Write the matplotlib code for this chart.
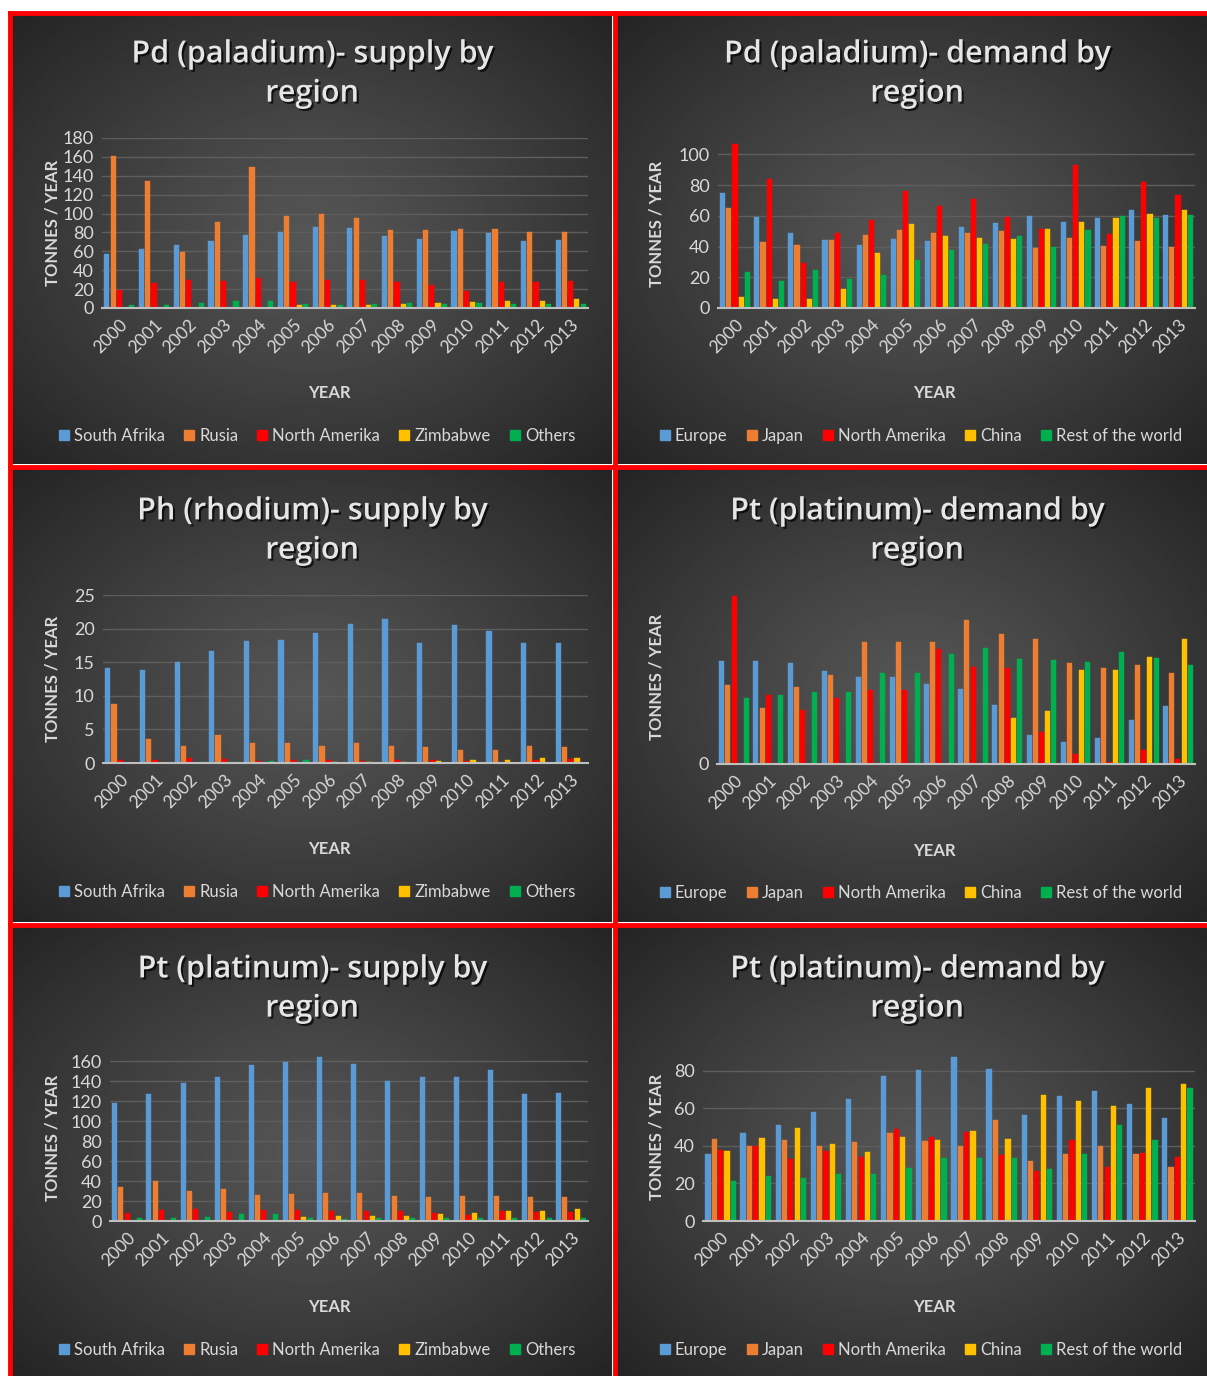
import numpy as np
import matplotlib.pyplot as plt
import matplotlib.patheffects as pe
from matplotlib.lines import Line2D

W, H = 1207, 1376
years = [str(y) for y in range(2000, 2014)]

supply_regions = ["South Afrika", "Rusia", "North Amerika", "Zimbabwe", "Others"]
demand_regions = ["Europe", "Japan", "North Amerika", "China", "Rest of the world"]
colors = ["#5B9BD5", "#ED7D31", "#FF0000", "#FFC000", "#00B050"]

# Pd supply (tonnes / year)
pd_sup_safrika = [57, 62, 67, 71, 77, 81, 86, 85, 76, 73, 82, 79, 71, 72]
pd_sup_rusia = [161, 135, 59, 91, 149, 97, 100, 95, 83, 83, 84, 84, 81, 81]
pd_sup_namerika = [19, 26, 30, 29, 32, 27.5, 30, 30, 27.5, 24, 18, 27.5, 27.5, 28.5]
pd_sup_zimbabwe = [0, 0, 0, 0, 0, 3, 3, 3, 4, 5, 6, 7, 7, 9.5]
pd_sup_others = [3, 3, 5, 7, 7, 4, 3, 4, 5, 4, 5, 4, 4, 4]

# Pd demand
pd_dem_europe = [75, 59.5, 49, 44.4, 41, 45, 43.7, 53, 55.4, 60, 56, 58.7, 63.9, 60.6]
pd_dem_japan = [65, 43, 41, 44.4, 47.6, 51, 49, 49, 50.2, 39, 45.7, 40.5, 43.7, 39.8]
pd_dem_namerika = [107, 84, 29, 48.5, 57.4, 76.4, 66.7, 71, 59.3, 51.5, 93.3, 48, 82, 73.4]
pd_dem_china = [7, 6, 6, 12.3, 35.7, 54.8, 47, 45.7, 45, 51.5, 56, 58.7, 61.3, 63.9]
pd_dem_rest = [23.4, 17.5, 24.7, 19, 21.4, 31.4, 38, 41.5, 46.8, 40, 51, 60, 58.7, 60.4]

# Rh supply
rh_sup_safrika = [14.1, 13.9, 15, 16.7, 18.1, 18.3, 19.3, 20.7, 21.5, 17.8, 20.5, 19.6, 17.8, 17.8]
rh_sup_rusia = [8.8, 3.6, 2.5, 4.2, 3.0, 3.0, 2.5, 3.0, 2.5, 2.4, 1.9, 1.9, 2.5, 2.4]
rh_sup_namerika = [0.4, 0.4, 0.7, 0.65, 0.25, 0.4, 0.4, 0.25, 0.4, 0.4, 0.25, 0.15, 0.4, 0.6]
rh_sup_zimbabwe = [0, 0, 0, 0, 0, 0, 0.15, 0.2, 0.2, 0.3, 0.4, 0.4, 0.75, 0.75]
rh_sup_others = [0.05, 0, 0.15, 0.15, 0.3, 0.4, 0.05, 0, 0, 0, 0, 0, 0, 0]

# Pt demand (first chart, axis without scale)
pt_dem1_europe = [61.6, 61.6, 60.8, 55.6, 52.4, 52.4, 48.2, 45.2, 35.4, 17.6, 13.2, 15.6, 26.6, 35]
pt_dem1_japan = [47.6, 33.8, 46.4, 53.6, 73, 73, 73, 86.2, 77.8, 74.8, 60.8, 57.8, 59.6, 54.8]
pt_dem1_namerika = [100.8, 41.4, 32.4, 39.6, 44.4, 44.6, 68.8, 58.4, 57.8, 19, 6, 1.2, 8.4, 3]
pt_dem1_china = [0, 0, 0, 0, 0, 0, 0, 0, 27.8, 32, 56.6, 56.6, 64.4, 75]
pt_dem1_rest = [39.6, 41.4, 43.4, 43.4, 54.8, 54.8, 65.8, 69.8, 62.8, 62.6, 61.4, 67, 63.8, 59.6]

# Pt supply
pt_sup_safrika = [117.6, 126.6, 137.6, 143.6, 155.6, 158.6, 163.7, 156.6, 139.6, 143.6, 143.6, 150.6, 126.6, 127.6]
pt_sup_rusia = [34, 40, 30, 32, 26, 27, 28, 28, 25, 24, 25, 25, 24, 24]
pt_sup_namerika = [8, 11, 12, 9, 11, 11, 10, 10, 10, 8, 6, 10, 9, 9]
pt_sup_zimbabwe = [0, 0, 0, 0, 0, 4, 5, 5, 5, 7, 8, 10, 10, 12]
pt_sup_others = [2.7, 2.7, 3.7, 7, 7, 2.7, 2, 2.7, 2.7, 2.7, 2.7, 2.7, 2.7, 2.7]

# Pt demand
pt_dem2_europe = [35.6, 46.8, 51.2, 58.2, 65.1, 77.3, 80.5, 87.1, 81.0, 56.6, 66.6, 69.3, 62.4, 54.9]
pt_dem2_japan = [43.8, 40.2, 43.1, 39.9, 42.0, 46.8, 42.7, 40.2, 53.9, 32.2, 35.6, 40.2, 35.6, 28.7]
pt_dem2_namerika = [37.9, 39.9, 32.8, 37.2, 33.9, 49.1, 44.9, 47.5, 34.9, 26.6, 42.9, 28.7, 36.1, 33.9]
pt_dem2_china = [37.2, 44.3, 49.6, 41.1, 36.7, 44.7, 43.3, 48.0, 43.8, 67.2, 63.7, 61.4, 70.9, 73.1]
pt_dem2_rest = [21.3, 23.9, 22.9, 24.8, 24.8, 28.0, 33.5, 33.5, 33.5, 27.7, 35.6, 51.1, 43.1, 70.9]

TXT = "#D9D9D9"
plt.rcParams["font.family"] = ["Lato", "DejaVu Sans"]

fig = plt.figure(figsize=(W / 100, H / 100), dpi=100)
fig.patch.set_facecolor("white")


def fx(px):
    return px / W


def fy(py):
    return 1 - py / H


def panel_background(x0, y0, x1, y1):
    bg = fig.add_axes([fx(x0), fy(y1), fx(x1 - x0), (y1 - y0) / H], zorder=0)
    xx, yy = np.meshgrid(np.linspace(-1, 1, 300), np.linspace(-1, 1, 300))
    r = np.clip(np.sqrt(xx ** 2 + yy ** 2) / np.sqrt(2), 0, 1)
    shade = (86 - 50 * r ** 1.1) / 255
    bg.imshow(shade, cmap="gray", vmin=0, vmax=1, aspect="auto",
              extent=[0, 1, 0, 1], interpolation="bilinear")
    bg.set_axis_off()


def bar_panel(rect, series, labels, title, title_xy, ylim, yticks,
              ylabel_x, xlabel_xy, legend_xy, grid=True):
    x0, x1, ybot, ytop = rect
    ax = fig.add_axes([fx(x0), fy(ybot), fx(x1 - x0), (ybot - ytop) / H], zorder=2)
    ax.patch.set_alpha(0)
    idx = np.arange(len(years))
    slot, bw = 0.18, 0.15
    for k, (vals, lab, c) in enumerate(zip(series, labels, colors)):
        ax.bar(idx + (k - 2) * slot, vals, width=bw, color=c, label=lab,
               zorder=3, edgecolor=c, linewidth=0.3)
    ax.set_xlim(-0.5, len(years) - 0.5)
    ax.set_ylim(*ylim)
    ax.set_yticks(yticks)
    ax.set_xticks(idx)
    ax.set_xticklabels(years, rotation=45, ha="right", rotation_mode="anchor",
                       fontsize=12.5, color=TXT)
    ax.tick_params(axis="y", labelsize=13, colors=TXT, length=0, pad=6)
    ax.tick_params(axis="x", length=0, pad=6)
    for s in ("top", "right", "left"):
        ax.spines[s].set_visible(False)
    ax.spines["bottom"].set_color("#BFBFBF")
    ax.spines["bottom"].set_linewidth(1.5)
    ax.spines["bottom"].set_zorder(4)
    if grid:
        ax.yaxis.grid(True, color="#5E5E5E", linewidth=1)
        ax.set_axisbelow(True)

    shadow = [pe.withSimplePatchShadow(offset=(1.5, -1.5), shadow_rgbFace="black", alpha=0.7)]
    fig.text(fx(title_xy[0]), fy(title_xy[1]), title, ha="center", va="center",
             fontsize=22, fontweight="semibold", color="#E6E6E6", linespacing=1.4,
             family=["Open Sans", "DejaVu Sans"], path_effects=shadow, zorder=5)
    fig.text(fx(ylabel_x), (fy(ybot) + fy(ytop)) / 2, "TONNES / YEAR", rotation=90,
             ha="center", va="center", fontsize=12, fontweight="bold", color=TXT, zorder=5)
    fig.text(fx(xlabel_xy[0]), fy(xlabel_xy[1]), "YEAR", ha="center", va="center",
             fontsize=12, fontweight="bold", color=TXT, zorder=5)
    handles = [Line2D([], [], marker="s", linestyle="", markersize=7.5,
                      markerfacecolor=c, markeredgecolor=c) for c in colors]
    fig.legend(handles, labels, loc="center", ncol=5, frameon=False,
               bbox_to_anchor=(fx(legend_xy[0]), fy(legend_xy[1])),
               fontsize=12, labelcolor=TXT, handlelength=0.6, handleheight=0.6,
               handletextpad=0.3, columnspacing=1.15, borderaxespad=0, borderpad=0)
    return ax


# dark panels
panels = [(12, 15, 612, 464), (617, 15, 1207, 464),
          (12, 469, 612, 922), (617, 469, 1207, 922),
          (12, 927, 612, 1376), (617, 927, 1207, 1376)]
for p in panels:
    panel_background(*p)

bar_panel((102, 588, 308, 138),
          [pd_sup_safrika, pd_sup_rusia, pd_sup_namerika, pd_sup_zimbabwe, pd_sup_others],
          supply_regions, "Pd (paladium)- supply by\nregion", (312, 74),
          (0, 180), np.arange(0, 181, 20), 52, (329, 393), (317, 436))

bar_panel((718, 1195, 308, 139),
          [pd_dem_europe, pd_dem_japan, pd_dem_namerika, pd_dem_china, pd_dem_rest],
          demand_regions, "Pd (paladium)- demand by\nregion", (917, 74),
          (0, 110), np.arange(0, 101, 20), 657, (934, 393), (921, 436))

bar_panel((103, 588, 763, 595),
          [rh_sup_safrika, rh_sup_rusia, rh_sup_namerika, rh_sup_zimbabwe, rh_sup_others],
          supply_regions, "Ph (rhodium)- supply by\nregion", (312, 531),
          (0, 25), np.arange(0, 26, 5), 52, (329, 849), (317, 892))

bar_panel((717, 1195, 764, 589),
          [pt_dem1_europe, pt_dem1_japan, pt_dem1_namerika, pt_dem1_china, pt_dem1_rest],
          demand_regions, "Pt (platinum)- demand by\nregion", (917, 531),
          (0, 105), [0], 657, (934, 851), (921, 893), grid=False)

bar_panel((110, 588, 1221, 1055),
          [pt_sup_safrika, pt_sup_rusia, pt_sup_namerika, pt_sup_zimbabwe, pt_sup_others],
          supply_regions, "Pt (platinum)- supply by\nregion", (312, 989),
          (0, 166), np.arange(0, 161, 20), 52, (329, 1307), (317, 1350))

bar_panel((703, 1195, 1221, 1052),
          [pt_dem2_europe, pt_dem2_japan, pt_dem2_namerika, pt_dem2_china, pt_dem2_rest],
          demand_regions, "Pt (platinum)- demand by\nregion", (917, 989),
          (0, 90), np.arange(0, 81, 20), 657, (934, 1307), (921, 1350))

# red frame around the panels
red = dict(color="#FF0000", linewidth=3.5, transform=fig.transFigure, zorder=10)
fig.add_artist(Line2D([fx(10), 1], [fy(13), fy(13)], **red))
fig.add_artist(Line2D([fx(10), fx(10)], [fy(13), 0], **red))
fig.add_artist(Line2D([fx(614.5), fx(614.5)], [fy(13), 0], **red))
fig.add_artist(Line2D([fx(10), 1], [fy(466.5), fy(466.5)], **red))
fig.add_artist(Line2D([fx(10), 1], [fy(924.5), fy(924.5)], **red))

fig.savefig("out.png", dpi=100, facecolor=fig.get_facecolor())
